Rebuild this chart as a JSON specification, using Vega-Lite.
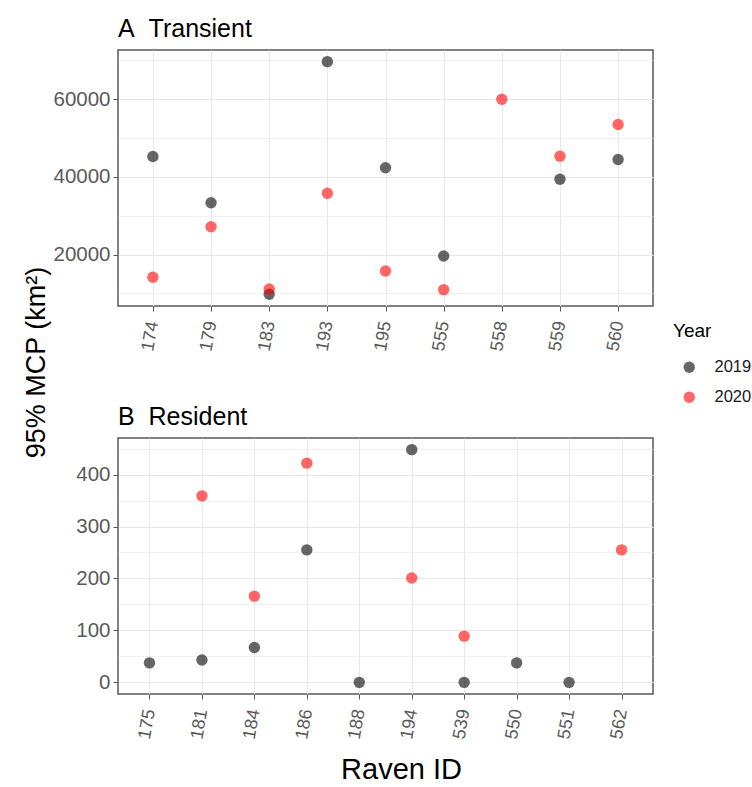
{
  "$schema": "https://vega.github.io/schema/vega-lite/v6.json",
  "background": "white",
  "padding": {"left": 21, "top": 16, "right": 0, "bottom": 0},
  "bounds": "flush",
  "spacing": 132,
  "datasets": {
    "transient": [
      {"id": "174", "year": "2019", "mcp": 45250},
      {"id": "179", "year": "2019", "mcp": 33350},
      {"id": "183", "year": "2019", "mcp": 9750},
      {"id": "193", "year": "2019", "mcp": 69700},
      {"id": "195", "year": "2019", "mcp": 42350},
      {"id": "555", "year": "2019", "mcp": 19600},
      {"id": "559", "year": "2019", "mcp": 39400},
      {"id": "560", "year": "2019", "mcp": 44500},
      {"id": "174", "year": "2020", "mcp": 14150},
      {"id": "179", "year": "2020", "mcp": 27150},
      {"id": "183", "year": "2020", "mcp": 11100},
      {"id": "193", "year": "2020", "mcp": 35800},
      {"id": "195", "year": "2020", "mcp": 15750},
      {"id": "555", "year": "2020", "mcp": 10950},
      {"id": "558", "year": "2020", "mcp": 60000},
      {"id": "559", "year": "2020", "mcp": 45350},
      {"id": "560", "year": "2020", "mcp": 53500}
    ],
    "resident": [
      {"id": "175", "year": "2019", "mcp": 37.5},
      {"id": "181", "year": "2019", "mcp": 43},
      {"id": "184", "year": "2019", "mcp": 67},
      {"id": "186", "year": "2019", "mcp": 255},
      {"id": "188", "year": "2019", "mcp": 0},
      {"id": "194", "year": "2019", "mcp": 448},
      {"id": "539", "year": "2019", "mcp": 0},
      {"id": "550", "year": "2019", "mcp": 37.5},
      {"id": "551", "year": "2019", "mcp": 0},
      {"id": "181", "year": "2020", "mcp": 359},
      {"id": "184", "year": "2020", "mcp": 166},
      {"id": "186", "year": "2020", "mcp": 422},
      {"id": "194", "year": "2020", "mcp": 201},
      {"id": "539", "year": "2020", "mcp": 89},
      {"id": "562", "year": "2020", "mcp": 255}
    ]
  },
  "vconcat": [
    {
      "width": 535,
      "height": 256,
      "title": {"text": "A\u00a0\u00a0Transient", "anchor": "start", "frame": "group", "fontSize": 25, "fontWeight": "normal", "color": "#000000", "offset": 8},
      "data": {"name": "transient"},
      "mark": {"type": "circle", "size": 130, "opacity": 0.6},
      "encoding": {
        "x": {
          "field": "id", "type": "nominal", "sort": "ascending",
          "scale": {"type": "point", "padding": 0.6},
          "axis": {"title": null}
        },
        "y": {
          "field": "mcp", "type": "quantitative",
          "scale": {"domain": [6730, 72700], "nice": false, "zero": false},
          "axis": {
            "values": [10000, 20000, 30000, 40000, 50000, 60000, 70000],
            "labelExpr": "datum.value % 20000 === 0 ? format(datum.value, 'd') : ''",
            "tickOpacity": {"condition": {"test": "datum.value % 20000 === 0", "value": 1}, "value": 0},
            "gridWidth": {"condition": {"test": "datum.value % 20000 === 0", "value": 1.2}, "value": 0.6},
            "title": "95% MCP (km²)",
            "titleX": -82,
            "titleY": 312,
            "titleAngle": -90,
            "titleAlign": "center",
            "titleBaseline": "middle",
            "titleFontSize": 27
          }
        },
        "color": {
          "field": "year", "type": "nominal",
          "scale": {"domain": ["2019", "2020"], "range": ["#000000", "#ff0000"]},
          "legend": {"title": "Year", "orient": "none", "legendX": 555, "legendY": 272}
        }
      }
    },
    {
      "width": 535,
      "height": 256,
      "title": {"text": "B\u00a0\u00a0Resident", "anchor": "start", "frame": "group", "fontSize": 25, "fontWeight": "normal", "color": "#000000", "offset": 8},
      "data": {"name": "resident"},
      "mark": {"type": "circle", "size": 130, "opacity": 0.6},
      "encoding": {
        "x": {
          "field": "id", "type": "nominal", "sort": "ascending",
          "scale": {"type": "point", "padding": 0.6},
          "axis": {"title": "Raven ID", "titleFontSize": 29, "titleX": 283, "titleY": 84, "titleBaseline": "alphabetic", "titleAlign": "center"}
        },
        "y": {
          "field": "mcp", "type": "quantitative",
          "scale": {"domain": [-22.4, 470.4], "nice": false, "zero": false},
          "axis": {
            "values": [0, 50, 100, 150, 200, 250, 300, 350, 400, 450],
            "labelExpr": "datum.value % 100 === 0 ? format(datum.value, 'd') : ''",
            "tickOpacity": {"condition": {"test": "datum.value % 100 === 0", "value": 1}, "value": 0},
            "gridWidth": {"condition": {"test": "datum.value % 100 === 0", "value": 1.2}, "value": 0.6},
            "title": null
          }
        },
        "color": {
          "field": "year", "type": "nominal",
          "scale": {"domain": ["2019", "2020"], "range": ["#000000", "#ff0000"]},
          "legend": {"title": "Year", "orient": "none", "legendX": 555, "legendY": 272}
        }
      }
    }
  ],
  "config": {
    "font": "Liberation Sans",
    "view": {"stroke": "#5a5a5a", "strokeWidth": 1.5},
    "axis": {
      "domain": false,
      "grid": true,
      "gridColor": "#e8e8e8",
      "tickColor": "#555555",
      "tickSize": 5,
      "tickWidth": 1,
      "labelColor": "#5a5a5a",
      "labelFontSize": 20.5,
      "labelPadding": 3,
      "titleColor": "#000000",
      "titleFontWeight": "normal"
    },
    "axisX": {"labelAngle": -80, "labelFontSize": 18, "labelPadding": 10},
    "legend": {
      "titleFontSize": 19,
      "titleFontWeight": "normal",
      "titleColor": "#000000",
      "labelFontSize": 16.5,
      "labelColor": "#1a1a1a",
      "symbolType": "circle",
      "symbolSize": 130,
      "symbolOpacity": 0.6,
      "symbolOffset": 8,
      "rowPadding": 13,
      "titlePadding": 18,
      "labelOffset": 17
    }
  }
}
